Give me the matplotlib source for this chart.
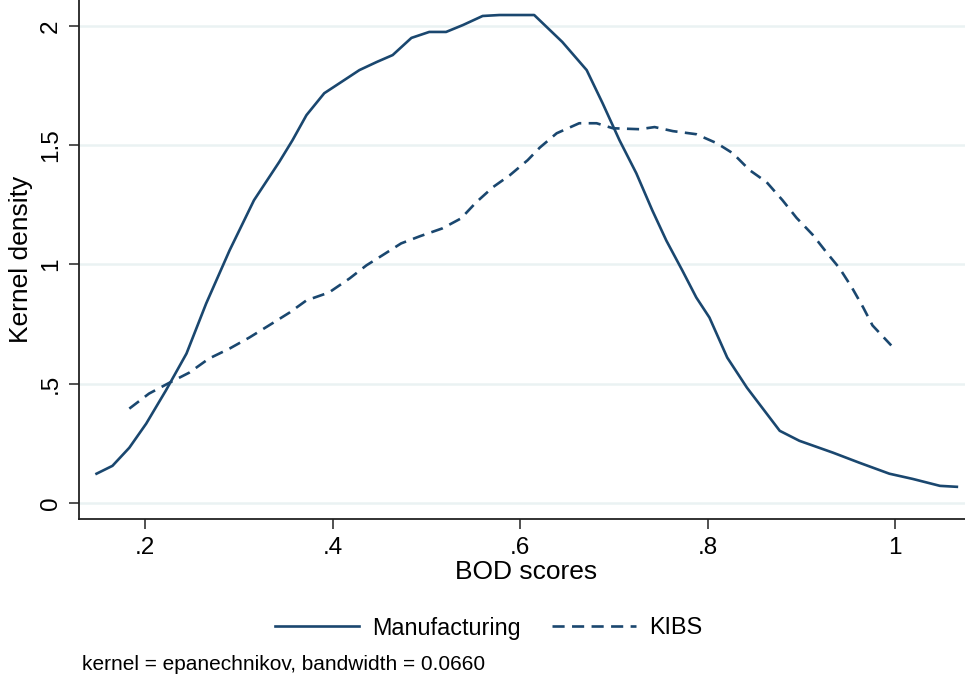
import matplotlib
matplotlib.use("Agg")
import matplotlib.pyplot as plt
from matplotlib.ticker import FixedLocator, FixedFormatter

# ---- data ----
manuf_x = [0.148, 0.165, 0.183, 0.201, 0.222, 0.244, 0.265, 0.29, 0.316, 0.343, 0.357, 0.372,
           0.391, 0.415, 0.4285, 0.447, 0.464, 0.484, 0.503, 0.521, 0.539, 0.56, 0.578, 0.615,
           0.645, 0.671, 0.688, 0.706, 0.724, 0.741, 0.756, 0.773, 0.788, 0.802, 0.821, 0.842,
           0.859, 0.877, 0.898, 0.934, 0.962, 0.994, 1.019, 1.048, 1.066]
manuf_y = [0.122, 0.155, 0.231, 0.332, 0.471, 0.626, 0.836, 1.059, 1.269, 1.43, 1.52, 1.626,
           1.718, 1.78, 1.815, 1.849, 1.878, 1.95, 1.975, 1.975, 2.004, 2.042, 2.046, 2.046,
           1.933, 1.815, 1.676, 1.521, 1.382, 1.227, 1.10, 0.975, 0.861, 0.777, 0.609, 0.483,
           0.395, 0.302, 0.26, 0.21, 0.168, 0.122, 0.10, 0.071, 0.067]

kibs_x = [0.183, 0.204, 0.226, 0.247, 0.268, 0.29, 0.311, 0.332, 0.354, 0.372, 0.396, 0.418,
          0.436, 0.453, 0.473, 0.493, 0.517, 0.537, 0.553, 0.571, 0.589, 0.608, 0.621, 0.639,
          0.663, 0.6816, 0.699, 0.7275, 0.7435, 0.763, 0.788, 0.81, 0.827, 0.845, 0.863, 0.88,
          0.895, 0.912, 0.927, 0.941, 0.954, 0.966, 0.976, 0.996]
kibs_y = [0.395, 0.458, 0.504, 0.546, 0.605, 0.647, 0.693, 0.744, 0.798, 0.849, 0.882, 0.941,
          0.996, 1.038, 1.088, 1.118, 1.151, 1.193, 1.26, 1.324, 1.374, 1.437, 1.49, 1.55,
          1.592, 1.592, 1.571, 1.567, 1.576, 1.559, 1.546, 1.508, 1.466, 1.395, 1.345, 1.269,
          1.195, 1.125, 1.05, 0.983, 0.903, 0.82, 0.744, 0.66]

x_ticks = [0.2, 0.4, 0.6, 0.8, 1.0]
x_labels = [".2", ".4", ".6", ".8", "1"]
y_ticks = [0, 0.5, 1, 1.5, 2]
y_labels = ["0", ".5", "1", "1.5", "2"]
series_names = ["Manufacturing", "KIBS"]
note_text = "kernel = epanechnikov, bandwidth = 0.0660"

# ---- style ----
plt.rcParams['font.family'] = ['Liberation Sans', 'DejaVu Sans']
navy = "#1a476f"
grid_c = "#eaf2f3"

W, H = 965, 687
fig = plt.figure(figsize=(W / 100, H / 100), dpi=100)
fig.patch.set_facecolor("white")
ax = fig.add_axes([79 / W, (H - 519) / H, (W - 79) / W, 519 / H])

ax.plot(manuf_x, manuf_y, color=navy, lw=1.9, label=series_names[0], zorder=3)
ax.plot(kibs_x, kibs_y, color=navy, lw=1.9, dashes=(4.6, 2.8), label=series_names[1], zorder=3)

ax.set_xlim(0.1293, 1.0747)
ax.set_ylim(-0.068, 2.109)

ax.xaxis.set_major_locator(FixedLocator(x_ticks))
ax.xaxis.set_major_formatter(FixedFormatter(x_labels))
ax.yaxis.set_major_locator(FixedLocator(y_ticks))
ax.yaxis.set_major_formatter(FixedFormatter(y_labels))

for y in y_ticks:
    ax.axhline(y, color=grid_c, lw=1.8, zorder=1)

for s in ["top", "right"]:
    ax.spines[s].set_visible(False)
for s in ["left", "bottom"]:
    ax.spines[s].set_linewidth(1.3)
    ax.spines[s].set_color("#222222")

ax.tick_params(axis="both", length=7.2, width=1.1, color="#222222", labelsize=17.5)
ax.tick_params(axis="x", pad=6.0)
ax.tick_params(axis="y", pad=5.0)
for lab in ax.get_yticklabels():
    lab.set_rotation(90)
    lab.set_va("center")

ax.set_xlabel("BOD scores", fontsize=19)
ax.xaxis.set_label_coords(0.5045, -0.102)
ax.xaxis.label.set_va("center")
ax.set_ylabel("Kernel density", fontsize=19)
ax.yaxis.set_label_coords(-0.066, 0.5)
ax.yaxis.label.set_va("center")

handles, labels = ax.get_legend_handles_labels()
fig.legend(handles, labels, loc="center", bbox_to_anchor=(489 / W, 1 - 628 / H),
           ncol=2, frameon=False, fontsize=16.8, handlelength=3.6, handletextpad=0.55,
           columnspacing=1.35)

fig.text(82 / W, 1 - 665 / H, note_text, fontsize=15, va="center", ha="left")

fig.savefig("out.png", dpi=100)
